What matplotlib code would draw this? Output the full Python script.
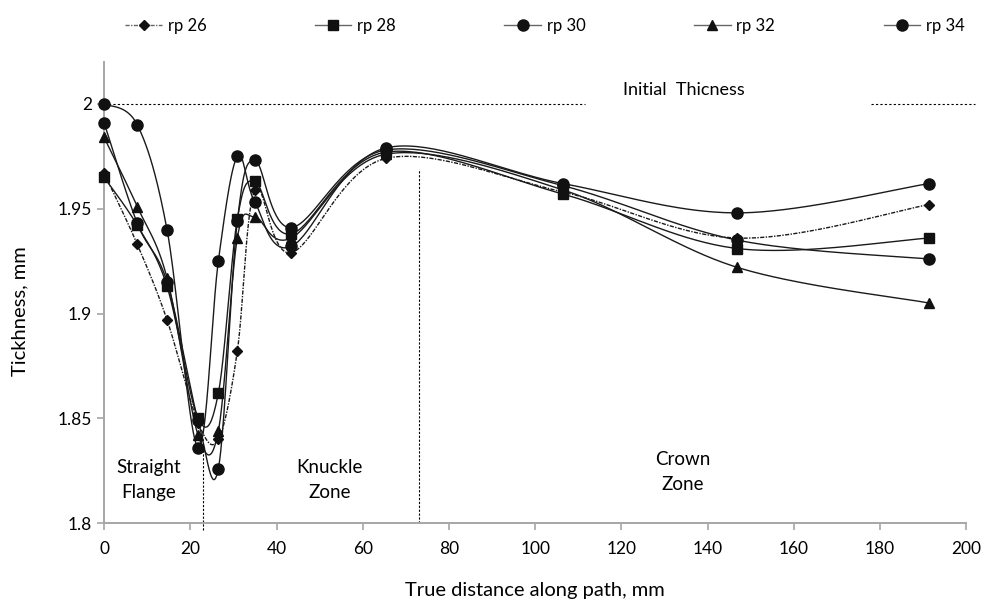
import numpy as np
import matplotlib
matplotlib.use("Agg")
import matplotlib.pyplot as plt
from matplotlib.lines import Line2D
from matplotlib.ticker import FuncFormatter

plt.rcParams['font.family'] = ['Lato', 'DejaVu Sans']

# distance along the path (mm) of each measuring point
dist = [0, 7.7, 14.6, 21.8, 26.5, 30.9, 35.0, 43.4, 65.4, 106.4, 146.9, 191.4]

rp26 = [1.967, 1.933, 1.897, 1.848, 1.840, 1.882, 1.959, 1.929, 1.974, 1.958, 1.936, 1.952]
rp28 = [1.965, 1.942, 1.913, 1.850, 1.862, 1.945, 1.963, 1.938, 1.977, 1.957, 1.931, 1.936]
rp30 = [1.991, 1.943, 1.915, 1.849, 1.826, 1.944, 1.973, 1.941, 1.978, 1.961, 1.935, 1.926]
rp32 = [1.984, 1.951, 1.917, 1.842, 1.844, 1.936, 1.946, 1.936, 1.976, 1.959, 1.922, 1.905]
rp34 = [2.000, 1.990, 1.940, 1.836, 1.925, 1.975, 1.953, 1.932, 1.979, 1.962, 1.948, 1.962]

labels = ['rp 26', 'rp 28', 'rp 30', 'rp 32', 'rp 34']
series = [rp26, rp28, rp30, rp32, rp34]
markers = ['D', 's', 'o', '^', 'o']
msizes = [5, 7.5, 8, 7, 8]
lstyles = [(0, (3, 1, 1, 1)), '-', '-', '-', '-']

initial = 2.0
zone_bounds = [22.9, 73.1]

fig = plt.figure(figsize=(9.82, 6.07), dpi=100)
ax = fig.add_axes([0.106, 0.138, 0.878, 0.760])
ax.set_xlim(0, 200)
ax.set_ylim(1.8, 2.02)


def smooth(xs, ys, n=40):
    # Bezier smoothing done in screen space, like a spreadsheet "smoothed line"
    pts = ax.transData.transform(np.column_stack([xs, ys]))
    p = np.vstack([pts[0], pts, pts[-1]])
    t = np.linspace(0, 1, n)[:, None]
    segs = []
    for i in range(1, len(p) - 2):
        p0, p1, p2, p3 = p[i - 1], p[i], p[i + 1], p[i + 2]
        c1 = p1 + (p2 - p0) / 6
        c2 = p2 - (p3 - p1) / 6
        segs.append((1 - t) ** 3 * p1 + 3 * (1 - t) ** 2 * t * c1
                    + 3 * (1 - t) * t ** 2 * c2 + t ** 3 * p2)
    return ax.transData.inverted().transform(np.vstack(segs)).T


handles = []
for ys, lab, m, ms, ls in zip(series, labels, markers, msizes, lstyles):
    cx, cy = smooth(dist, ys)
    ax.plot(cx, cy, color='#1a1a1a', lw=1.0, ls=ls, zorder=3)
    ax.plot(dist, ys, ls='none', marker=m, ms=ms, color='#111111',
            clip_on=False, zorder=4)
    handles.append(Line2D([], [], color='#666666', lw=1.0, ls=ls, marker=m,
                          ms=ms, markerfacecolor='#111111',
                          markeredgecolor='#111111'))

# initial sheet thickness reference
ax.plot([0, 111.5], [initial, initial], color='black', lw=0.8, ls=(0, (2, 2)), zorder=2)
ax.plot([178, 202], [initial, initial], color='black', lw=0.8, ls=(0, (2, 2)),
        clip_on=False, zorder=2)
ax.text(134.5, 2.0068, 'Initial  Thicness', ha='center', va='center', fontsize=13)

# zone boundaries
ax.plot([zone_bounds[0]] * 2, [1.797, 1.838], color='black', lw=0.8,
        ls=(0, (2, 1.5)), clip_on=False, zorder=2)
ax.plot([zone_bounds[1]] * 2, [1.8, 1.969], color='black', lw=0.8,
        ls=(0, (2, 1.5)), zorder=2)

ax.text(10.3, 1.8205, 'Straight\nFlange', ha='center', va='center', fontsize=13.5,
        linespacing=1.55)
ax.text(52.3, 1.8205, 'Knuckle\nZone', ha='center', va='center', fontsize=13.5,
        linespacing=1.55)
ax.text(134.3, 1.8243, 'Crown\nZone', ha='center', va='center', fontsize=13.5,
        linespacing=1.55)

ax.set_xticks(np.arange(0, 201, 20))
ax.set_yticks([1.8, 1.85, 1.9, 1.95, 2.0])
ax.yaxis.set_major_formatter(FuncFormatter(lambda v, p: '%g' % round(v, 2)))
ax.tick_params(axis='both', labelsize=12.5, color='#a6a6a6', length=5, width=1.2)
ax.tick_params(axis='x', pad=8)
for s in ['top', 'right']:
    ax.spines[s].set_visible(False)
for s in ['left', 'bottom']:
    ax.spines[s].set_color('#a6a6a6')
    ax.spines[s].set_linewidth(1.4)

ax.set_xlabel('True distance along path, mm', fontsize=14.5)
ax.set_ylabel('Tickhness, mm', fontsize=14.5)
ax.xaxis.set_label_coords(0.5, -0.127)
ax.yaxis.set_label_coords(-0.088, 0.46)

fig.legend(handles, labels, loc='upper center', bbox_to_anchor=(0.555, 1.0),
           ncol=5, frameon=False, fontsize=12, handlelength=2.2,
           columnspacing=6.5, handletextpad=0.35, borderpad=0.55)

fig.savefig('out.png', dpi=100)
